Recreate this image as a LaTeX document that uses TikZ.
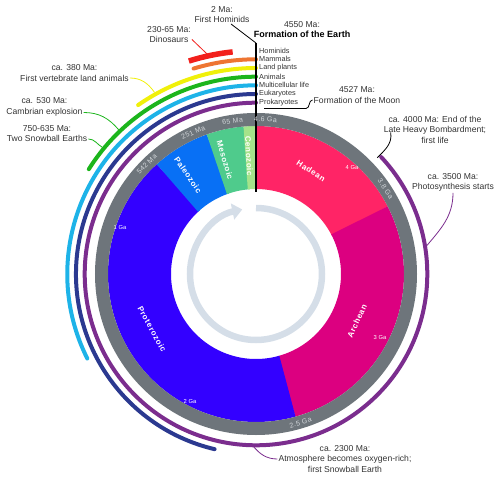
\documentclass[tikz,border=0pt]{standalone}
\usepackage{fontspec}
\setmainfont{Liberation Sans}
\usetikzlibrary{arrows.meta}

\definecolor{hadean}{HTML}{FF2466}
\definecolor{archean}{HTML}{DC0080}
\definecolor{proterozoic}{HTML}{3300FF}
\definecolor{paleozoic}{HTML}{0870F5}
\definecolor{mesozoic}{HTML}{4FCB8C}
\definecolor{cenozoic}{HTML}{A5E38A}
\definecolor{ringgray}{HTML}{6E757B}
\definecolor{ringtext}{HTML}{D2D6DA}
\definecolor{clockring}{HTML}{D5DEE8}
\definecolor{prokcol}{HTML}{7B2D8E}
\definecolor{eukcol}{HTML}{2B3990}
\definecolor{multicol}{HTML}{1DB3E8}
\definecolor{animalcol}{HTML}{1CB51C}
\definecolor{landcol}{HTML}{F0F00A}
\definecolor{mammalcol}{HTML}{EE7532}
\definecolor{dinocol}{HTML}{F2201C}
\definecolor{notegray}{HTML}{333333}

\begin{document}
\begin{tikzpicture}[x=1pt, y=1pt,
    eventlabel/.style={align=center, inner sep=1pt, text=notegray, font=\fontsize{8.6}{10.5}\selectfont},
    lifelabel/.style={anchor=west, inner sep=0pt, text=notegray, font=\fontsize{7.3}{8}\selectfont},
    eraname/.style={text=white, inner sep=0pt, font=\fontsize{8}{9}\selectfont\bfseries\addfontfeatures{LetterSpace=8}},
    agelabel/.style={text=ringtext, inner sep=0pt, font=\fontsize{7}{8}\selectfont\addfontfeatures{LetterSpace=6}},
    gatick/.style={text=white, inner sep=0pt, font=\fontsize{5.8}{6}\selectfont},
    eraband/.style={line width=63pt},
    lifearc/.style={line width=4pt, line cap=round},
    leaderline/.style={line width=0.8pt}]
    \useasboundingbox (-256,-205) rectangle (244,274);

    % eras (each runs a little under the next one)
    \draw[eraband, hadean]      (90:116.5)      arc[start angle=90,      end angle=26.9,    radius=116.5];
    \draw[eraband, archean]     (27.39:116.5)   arc[start angle=27.39,   end angle=-74.85,  radius=116.5];
    \draw[eraband, proterozoic] (-74.35:116.5)  arc[start angle=-74.35,  end angle=-228.1,  radius=116.5];
    \draw[eraband, paleozoic]   (-227.58:116.5) arc[start angle=-227.58, end angle=-250.9,  radius=116.5];
    \draw[eraband, mesozoic]    (-250.36:116.5) arc[start angle=-250.36, end angle=-265.4,  radius=116.5];
    \draw[eraband, cenozoic]    (-264.91:116.5) arc[start angle=-264.91, end angle=-270,    radius=116.5];

    % time ring and clock arrow
    \draw[ringgray, line width=13pt] (0,0) circle (154.5);
    \draw[clockring, line width=6.5pt, -{Triangle[length=10pt, width=16pt]}] (90:66) arc[start angle=90, end angle=-258, radius=66];

    % life
    \draw[lifearc, prokcol]   (43.04:171.3)   arc[start angle=43.04,   end angle=-270, radius=171.3];
    \draw[lifearc, eukcol]    (-103.30:180)   arc[start angle=-103.30, end angle=-270, radius=180];
    \draw[lifearc, multicol]  (-153.39:188.7) arc[start angle=-153.39, end angle=-270, radius=188.7];
    \draw[lifearc, animalcol] (-212.09:197.3) arc[start angle=-212.09, end angle=-270, radius=197.3];
    \draw[lifearc, landcol]   (-235.1:206)    arc[start angle=-235.1,  end angle=-270, radius=206];
    \draw[lifearc, mammalcol] (-253.1:214.7)  arc[start angle=-253.1,  end angle=-270, radius=214.7];
    \draw[dinocol, line width=5.5pt] (-252.5:223.3) arc[start angle=-252.5, end angle=-264, radius=223.3];

    \coordinate (linetop) at (0,231);
    \coordinate (linebot) at (0,82);
    \draw[line width=1.2pt] (linebot) -- (linetop);

    \node[lifelabel] (homname)   at (3,223.3) {Hominids};
    \node[lifelabel] (mamname)   at (3,214.7) {Mammals};
    \node[lifelabel] (landname)  at (3,206)   {Land plants};
    \node[lifelabel] (animname)  at (3,197.3) {Animals};
    \node[lifelabel] (multiname) at (3,188.7) {Multicellular life};
    \node[lifelabel] (eukname)   at (3,180)   {Eukaryotes};
    \node[lifelabel] (prokname)  at (3,171.3) {Prokaryotes};

    \node[eraname, rotate=-33] (hadeanname) at (55,103)   {Hadean};
    \node[eraname, rotate=65]  (archname)   at (101,-47)  {Archean};
    \node[eraname, rotate=-61] (protname)   at (-104,-55) {Proterozoic};
    \node[eraname, rotate=-56] (paleoname)  at (-68,99)   {Paleozoic};
    \node[eraname, rotate=-74] (mesoname)   at (-31,114)  {Mesozoic};
    \node[eraname, rotate=-87] (cenoname)   at (-7,118)   {Cenozoic};

    \node[agelabel, rotate=-3.5]  (age46)  at (86.5:155)  {4.6 Ga};
    \node[agelabel, rotate=-56.7] (age38)  at (33.3:155)  {3.8 Ga};
    \node[agelabel, rotate=16.7]  (age25)  at (-73.3:155) {2.5 Ga};
    \node[agelabel, rotate=44.8]  (age542) at (134.8:155) {542 Ma};
    \node[agelabel, rotate=23.9]  (age251) at (113.9:155) {251 Ma};
    \node[agelabel, rotate=8.7]   (age65)  at (98.7:155)  {65 Ma};

    \node[gatick] (ga4) at (96,106)   {4 Ga};
    \node[gatick] (ga3) at (124,-64)  {3 Ga};
    \node[gatick] (ga2) at (-66,-128) {2 Ga};
    \node[gatick] (ga1) at (-136,46)  {1 Ga};

    % events
    \node[eventlabel] (hominidnote) at (-34,259.5)  {2 Ma:\\First Hominids};
    \node[eventlabel] (dinonote)    at (-87,239.5)  {230-65 Ma:\\Dinosaurs};
    \node[eventlabel] (earthnote)   at (46,244.5)   {4550 Ma:\\{\color{black}\fontsize{9}{10.5}\selectfont\bfseries Formation of the Earth}};
    \node[eventlabel] (vertnote)    at (-181.5,201) {ca. 380 Ma:\\First vertebrate land animals};
    \node[eventlabel] (cambnote)    at (-211.5,167) {ca. 530 Ma:\\Cambrian explosion};
    \node[eventlabel] (snownote)    at (-209,140.5) {750-635 Ma:\\Two Snowball Earths};
    \node[eventlabel] (moonnote)    at (101,179)    {4527 Ma:\\Formation of the Moon};
    \node[eventlabel] (lhbnote)     at (179,144.5)  {ca. 4000 Ma: End of the\\Late Heavy Bombardment;\\first life};
    \node[eventlabel] (photonote)   at (197,91.5)   {ca. 3500 Ma:\\Photosynthesis starts};
    \node[eventlabel] (oxynote)     at (89,-185)    {ca. 2300 Ma:\\Atmosphere becomes oxygen-rich;\\first Snowball Earth};

    \coordinate (dinopt)   at (102.3:224);
    \coordinate (vertpt)   at (119.2:208);
    \coordinate (cambpt)   at (133.6:199);
    \coordinate (snowpt)   at (140.5:199);
    \coordinate (moonbend) at (50,165.5);
    \coordinate (moonpt)   at (8,165.5);
    \coordinate (lhbpt)    at (43.8:168);
    \coordinate (photopt)  at (9.1:172);
    \coordinate (oxypt)    at (-91:172);

    \draw[leaderline] ([xshift=9pt]hominidnote.south) -- (linetop);
    \draw[leaderline, dinocol] ([yshift=-5pt]dinonote.east) -- (dinopt);
    \draw[leaderline, landcol] ([yshift=-5pt]vertnote.east) to[out=0, in=125] (vertpt);
    \draw[leaderline, animalcol] ([yshift=-5.5pt]cambnote.east) to[out=0, in=130] (cambpt);
    \draw[leaderline, animalcol] ([yshift=-5.5pt]snownote.east) to[out=0, in=150] (snowpt);
    \draw[leaderline] ([yshift=-5pt]moonnote.west) to[out=180, in=0] (moonbend) -- (moonpt);
    \draw[leaderline] ([shift={(8pt,12pt)}]lhbnote.south west) to[out=-80, in=45] (lhbpt);
    \draw[leaderline, prokcol] (photonote.south) to[out=-90, in=50] (photopt);
    \draw[leaderline, prokcol] (oxynote.west) to[out=180, in=-50] (oxypt);
\end{tikzpicture}
\end{document}
